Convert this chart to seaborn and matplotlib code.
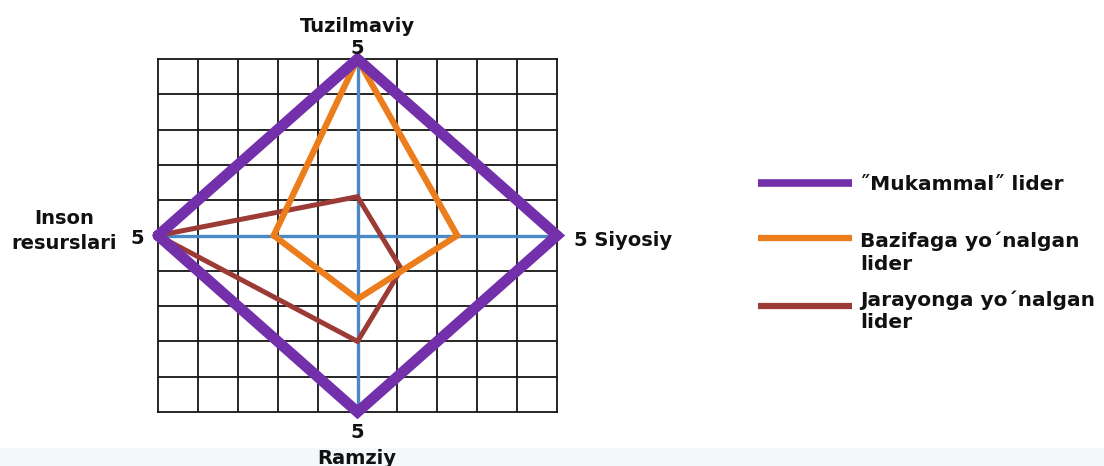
import numpy as np
import pandas as pd
import matplotlib.pyplot as plt
import seaborn as sns

# axis names
axis_top = "Tuzilmaviy"
axis_right = "Siyosiy"
axis_bottom = "Ramziy"
axis_left = "Inson\nresurslari"
axis_max = 5

# polygon vertices in grid units (closed): left, top, right, bottom, left
series_names = ["˝Mukammal˝ lider", "Bazifaga yo´nalgan\nlider", "Jarayonga yo´nalgan\nlider"]
mukammal_x = [-5, 0, 5, 0, -5]
mukammal_y = [0, 5, 0, -5, 0]
bazifa_x = [-2.1, 0, 2.5, 0, -2.1]
bazifa_y = [0, 5, 0, -1.8, 0]
jarayon_x = [-5, 0, 1.1, 0, -5]
jarayon_y = [0, 1.1, -0.95, -3, 0]

colors = ["#7430ab", "#ec7d1c", "#9c3a36"]
widths = [7.8, 4.5, 3.6]

W, H = 1104, 466
fig = plt.figure(figsize=(W / 100, H / 100), dpi=100)
sns.set_style("white")

def fx(px):
    return px / W

def fy(py):
    return 1 - py / H

ax = fig.add_axes([fx(158), fy(412), 399 / W, 353 / H])
ax.set_xlim(-axis_max, axis_max)
ax.set_ylim(-axis_max, axis_max)

for v in range(-axis_max + 1, axis_max):
    ax.axvline(v, color="#151515", lw=1.3, zorder=1)
    ax.axhline(v, color="#151515", lw=1.3, zorder=1)
ax.axvline(0, color="#4b88c6", lw=2.4, zorder=2)
ax.axhline(0, color="#4b88c6", lw=2.4, zorder=2)
for s in ax.spines.values():
    s.set_color("#151515")
    s.set_linewidth(1.3)
ax.set_xticks([])
ax.set_yticks([])

frames = [
    pd.DataFrame({"x": mukammal_x, "y": mukammal_y}),
    pd.DataFrame({"x": bazifa_x, "y": bazifa_y}),
    pd.DataFrame({"x": jarayon_x, "y": jarayon_y}),
]
for i, d in enumerate(frames):
    sns.lineplot(data=d, x="x", y="y", sort=False, estimator=None, color=colors[i],
                 lw=widths[i], ax=ax, zorder=3 + (2 - i), clip_on=False,
                 solid_joinstyle="miter")
ax.set_xlabel("")
ax.set_ylabel("")

tk = dict(fontweight="bold", color="#111111", fontsize=14)
fig.text(fx(357), fy(27), axis_top, ha="center", va="center", **tk)
fig.text(fx(357), fy(48), str(axis_max), ha="center", va="center", **tk)
fig.text(fx(357), fy(433), str(axis_max), ha="center", va="center", **tk)
fig.text(fx(357), fy(458), axis_bottom, ha="center", va="center", **tk)
fig.text(fx(64), fy(231), axis_left, ha="center", va="center", linespacing=1.35, **tk)
fig.text(fx(137), fy(238), str(axis_max), ha="center", va="center", **tk)
fig.text(fx(574), fy(240), f"{axis_max} {axis_right}", ha="left", va="center", **tk)

# legend drawn by hand so the line sits on the first text line
leg_y = [183, 238, 306]
leg_text_y = [184, 241, 300]
leg_w = [5.5, 4.5, 4.5]
for i, name in enumerate(series_names):
    fig.add_artist(plt.Line2D([fx(758), fx(852)], [fy(leg_y[i]), fy(leg_y[i])],
                              color=colors[i], lw=leg_w[i], solid_capstyle="butt",
                              transform=fig.transFigure))
    for j, part in enumerate(name.split("\n")):
        fig.text(fx(860), fy(leg_text_y[i] + 23 * j), part, ha="left", va="center",
                 fontweight="bold", color="#111111", fontsize=14.5)

fig.add_artist(plt.Rectangle((0, 0), 1, fy(448), transform=fig.transFigure,
                             color="#f3f9fa", zorder=-10))

fig.savefig("out.png", dpi=100)
